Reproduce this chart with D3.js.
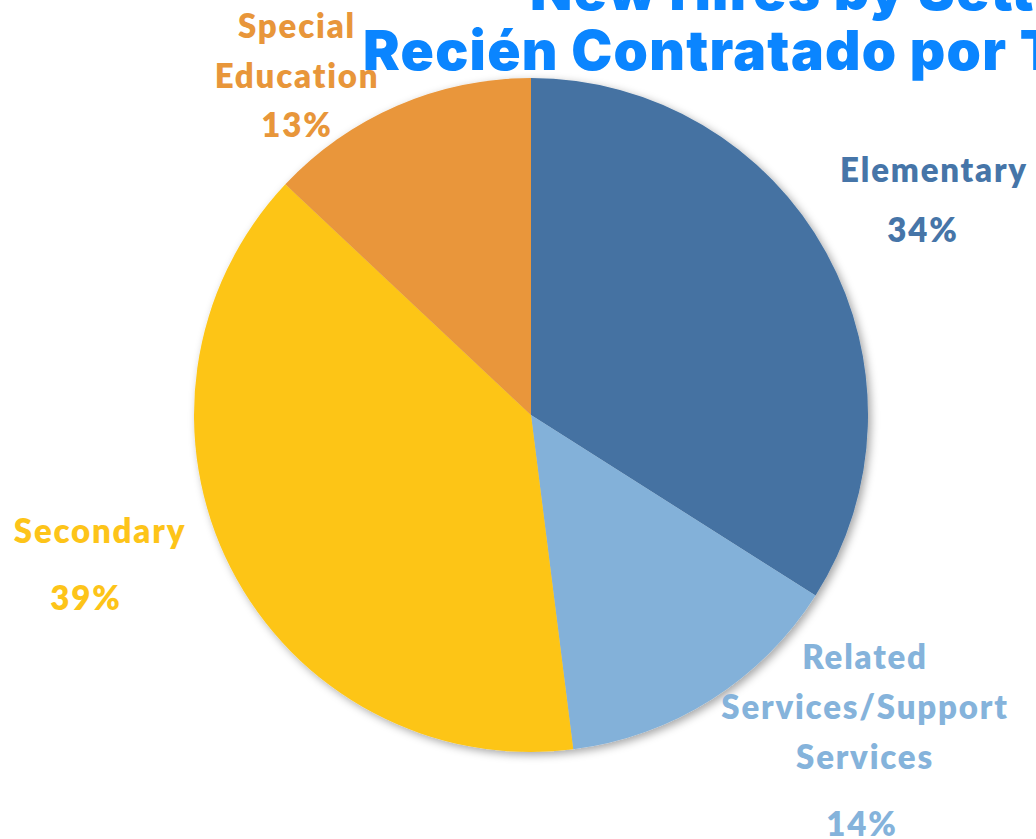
<!DOCTYPE html>
<html>
<head>
<meta charset="utf-8">
<script src="https://cdn.jsdelivr.net/npm/d3@7"></script>
<style>
  html, body { margin: 0; padding: 0; background: #fff; overflow: hidden; }
  svg { display: block; }
</style>
</head>
<body>
<svg id="chart" width="1036" height="839"></svg>
<script>
// New hires split by assignment type
const categories = ["Elementary", "Related Services/Support Services", "Secondary", "Special Education"];
const shares = [34, 14, 39, 13];
const labelLines = [["Elementary"], ["Related", "Services/Support", "Services"], ["Secondary"], ["Special", "Education"]];
const sliceColors = ["#4472A2", "#83B1D9", "#FDC516", "#E9963A"];
const labelColors = ["#4675A8", "#85B3DB", "#FDC419", "#E8963A"];
const titleLines = ["New Hires by Setting", "Recién Contratado por Tipo"];

// Label anchors (centre x, first baseline y, line step, gap before the percentage, percentage x shift)
const labelLayout = [
  { x: 934, y: 182, step: 50, pctGap: 60, pctDx: -11 },
  { x: 865, y: 669, step: 50, pctGap: 67, pctDx: -3 },
  { x: 100, y: 543, step: 50, pctGap: 67, pctDx: -14 },
  { x: 297, y: 38,  step: 50, pctGap: 49, pctDx: 0 }
];

const svg = d3.select("#chart");
const cx = 531, cy = 415, radius = 337;

const defs = svg.append("defs");
const shadow = defs.append("filter").attr("id", "pieShadow")
  .attr("x", "-10%").attr("y", "-10%").attr("width", "120%").attr("height", "120%");
shadow.append("feDropShadow")
  .attr("dx", 3).attr("dy", 3).attr("stdDeviation", 4)
  .attr("flood-color", "#000").attr("flood-opacity", 0.35);

const pie = d3.pie().sort(null).value(d => d)(shares);
const arc = d3.arc().innerRadius(0).outerRadius(radius);

const pieG = svg.append("g")
  .attr("transform", `translate(${cx},${cy})`)
  .attr("filter", "url(#pieShadow)");

pieG.selectAll("path")
  .data(pie)
  .join("path")
  .attr("d", arc)
  .attr("fill", (d, i) => sliceColors[i]);

// Category labels with percentages
const labels = svg.append("g")
  .attr("font-family", "Lato, 'Open Sans', sans-serif")
  .attr("font-weight", 800)
  .attr("font-size", 33)
  .attr("letter-spacing", 1.8)
  .attr("text-anchor", "middle");

categories.forEach((c, i) => {
  const L = labelLayout[i];
  const g = labels.append("g").attr("fill", labelColors[i]);
  labelLines[i].forEach((line, j) => {
    g.append("text").attr("x", L.x).attr("y", L.y + j * L.step).text(line);
  });
  const lastY = L.y + (labelLines[i].length - 1) * L.step;
  g.append("text")
    .attr("x", L.x + L.pctDx)
    .attr("y", lastY + L.pctGap)
    .text(`${shares[i]}%`);
});

// Title, drawn over everything else
const title = svg.append("g")
  .attr("font-family", "Inter, 'Open Sans', sans-serif")
  .attr("font-weight", 900)
  .attr("font-size", 55)
  .attr("letter-spacing", 1.3)
  .attr("fill", "#0A85FF");
title.append("text").attr("x", 530).attr("y", 10).text(titleLines[0]);
title.append("text").attr("x", 363).attr("y", 70).text(titleLines[1]);
</script>
</body>
</html>
